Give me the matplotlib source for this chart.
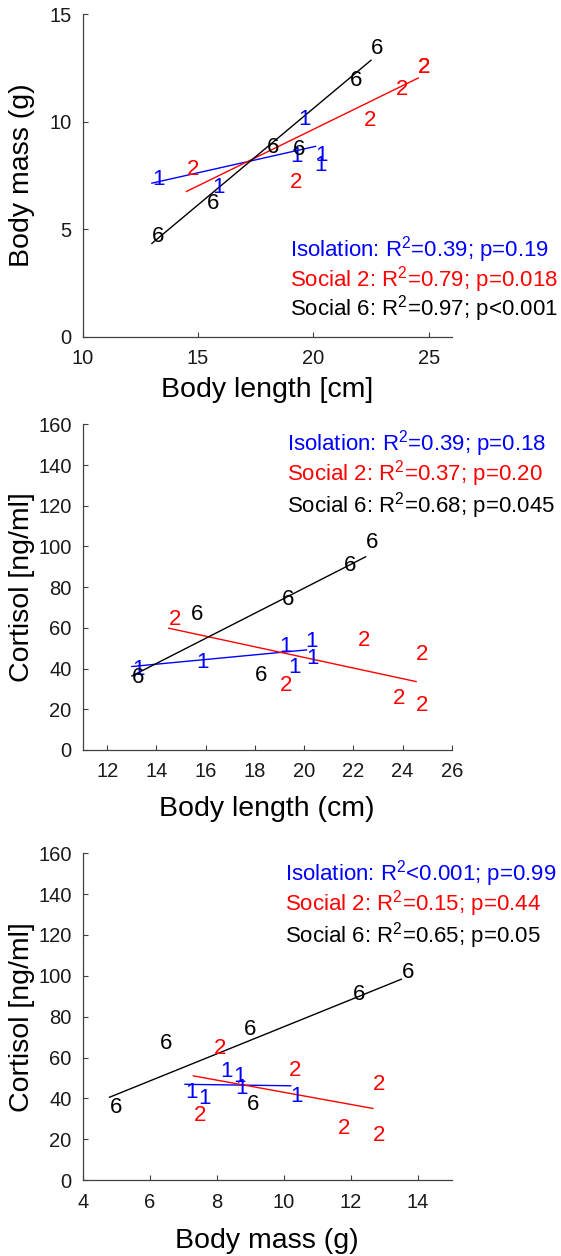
import numpy as np
import matplotlib
matplotlib.use("Agg")
import matplotlib.pyplot as plt

plt.rcParams["font.family"] = ["Liberation Sans", "DejaVu Sans"]
plt.rcParams["mathtext.fontset"] = "custom"
plt.rcParams["mathtext.rm"] = "Liberation Sans"
plt.rcParams["mathtext.default"] = "regular"

# per-fish values, one entry per animal
iso_length = [13.0, 15.6, 19.0, 19.35, 20.05, 20.1]
iso_mass = [7.45, 7.05, 8.5, 10.2, 8.1, 8.55]
iso_cortisol = [41, 44, 52, 42, 54.5, 46]

s2_length = [14.5, 19.0, 22.2, 23.6, 24.55, 24.55]
s2_mass = [7.9, 7.3, 10.15, 11.6, 12.65, 12.65]
s2_cortisol = [65.5, 33, 55, 26.5, 48, 23]

s6_length = [13.0, 15.4, 18.0, 19.1, 21.6, 22.5]
s6_mass = [4.8, 6.3, 8.9, 8.8, 12.05, 13.5]
s6_cortisol = [37, 68, 38, 75, 92, 103]

groups = [
    ("1", "#0000ff", iso_length, iso_mass, iso_cortisol),
    ("2", "#ff0000", s2_length, s2_mass, s2_cortisol),
    ("6", "#000000", s6_length, s6_mass, s6_cortisol),
]

stats_mass_length = ["Isolation: R$^2$=0.39; p=0.19",
                     "Social 2: R$^2$=0.79; p=0.018",
                     "Social 6: R$^2$=0.97; p<0.001"]
stats_cort_length = ["Isolation: R$^2$=0.39; p=0.18",
                     "Social 2: R$^2$=0.37; p=0.20",
                     "Social 6: R$^2$=0.68; p=0.045"]
stats_cort_mass = ["Isolation: R$^2$<0.001; p=0.99",
                   "Social 2: R$^2$=0.15; p=0.44",
                   "Social 6: R$^2$=0.65; p=0.05"]

AXC = "#404040"


def style_axes(ax):
    for side in ("top", "right"):
        ax.spines[side].set_visible(False)
    for side in ("left", "bottom"):
        ax.spines[side].set_color(AXC)
        ax.spines[side].set_linewidth(0.9)
    ax.tick_params(direction="in", length=3.5, width=0.8, colors=AXC,
                   labelsize=14.5, labelcolor="#1a1a1a")
    ax.tick_params(axis="x", pad=9)
    ax.tick_params(axis="y", pad=8)


def panel(ax, xi, yi, stats, text_x, text_y):
    for (lab, col, *vals) in groups:
        x = np.array(vals[xi], dtype=float)
        y = np.array(vals[yi], dtype=float)
        k, b = np.polyfit(x, y, 1)
        xs = np.array([x.min(), x.max()])
        ax.plot(xs, k * xs + b, color=col, lw=1.0, zorder=2)
        for xv, yv in zip(x, y):
            ax.annotate(lab, (xv, yv), xytext=(0, -5.8), textcoords="offset points",
                        ha="left", va="baseline", color=col, fontsize=16, zorder=3)
    for s, (_, col, *_), ty in zip(stats, groups, text_y):
        ax.text(text_x, ty, s, transform=ax.transAxes, color=col, fontsize=16,
                ha="left", va="baseline")
    style_axes(ax)


def labels(ax, xlab, ylab, xlab_y):
    ax.set_xlabel(xlab, fontsize=20.5)
    ax.set_ylabel(ylab, fontsize=20.5)
    ax.xaxis.set_label_coords(0.5, xlab_y)
    ax.yaxis.set_label_coords(-0.13, 0.5)


fig = plt.figure(figsize=(5.61, 12.56), dpi=100)

ax1 = fig.add_axes([0.1474, 0.7319, 0.6578, 0.2569])
panel(ax1, 0, 1, stats_mass_length, 0.562, [0.248, 0.155, 0.065])
ax1.set_xlim(10, 26)
ax1.set_ylim(0, 15)
ax1.set_xticks([10, 15, 20, 25])
ax1.set_yticks([0, 5, 10, 15])
labels(ax1, "Body length [cm]", "Body mass (g)", -0.125)

ax2 = fig.add_axes([0.1474, 0.4029, 0.6578, 0.2592])
panel(ax2, 0, 2, stats_cort_length, 0.553, [0.919, 0.827, 0.729])
ax2.set_xlim(11, 26)
ax2.set_ylim(0, 160)
ax2.set_xticks(range(12, 27, 2))
ax2.set_yticks(range(0, 161, 20))
labels(ax2, "Body length (cm)", "Cortisol [ng/ml]", -0.14)

ax3 = fig.add_axes([0.1474, 0.0605, 0.6578, 0.2601])
panel(ax3, 1, 2, stats_cort_mass, 0.548, [0.916, 0.824, 0.727])
ax3.set_xlim(4, 15)
ax3.set_ylim(0, 160)
ax3.set_xticks(range(4, 15, 2))
ax3.set_yticks(range(0, 161, 20))
labels(ax3, "Body mass (g)", "Cortisol [ng/ml]", -0.146)

fig.savefig("out.png", dpi=100)
